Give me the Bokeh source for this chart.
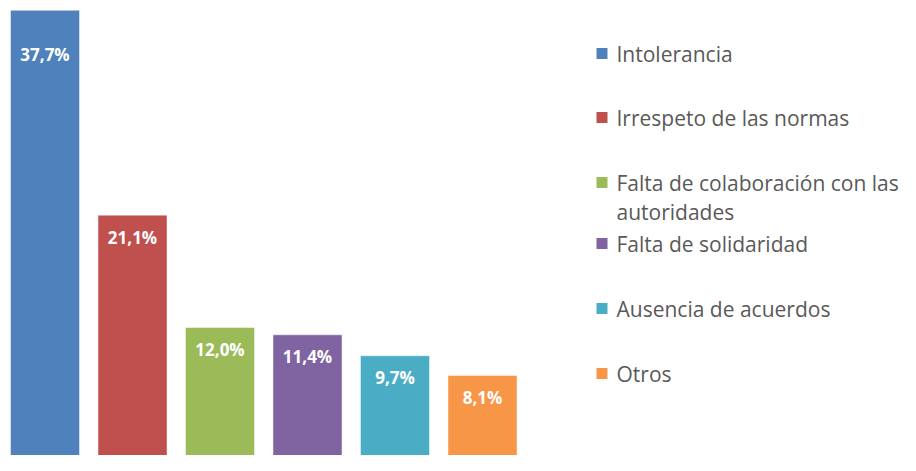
import textwrap
from bokeh.plotting import figure
from bokeh.models import Range1d, ColumnDataSource
from bokeh.core.properties import value
from bokeh.embed import file_html
from bokeh.resources import INLINE

# ---- data ----
categories = ["Intolerancia", "Irrespeto de las normas",
              "Falta de colaboración con las autoridades",
              "Falta de solidaridad", "Ausencia de acuerdos", "Otros"]
values = [37.7, 21.1, 12.0, 11.4, 9.7, 8.1]
labels = ["37,7%", "21,1%", "12,0%", "11,4%", "9,7%", "8,1%"]
colors = ["#4F81BD", "#C0504D", "#9BBB59", "#8064A2", "#4BACC6", "#F79646"]

# ---- layout ----
W, H = 900, 455
PX_PER_CAT = 87.5
PX_PER_UNIT = 12.34
X0_PX = 44.5           # center of first bar (figure px)
ZERO_PX = 475.0        # pixel row of value 0 (figure px, below frame)

x_start = -X0_PX / PX_PER_CAT
x_end = x_start + W / PX_PER_CAT
y_top = ZERO_PX / PX_PER_UNIT
y_bottom = (ZERO_PX - H) / PX_PER_UNIT

def xd(px):
    return x_start + px / PX_PER_CAT

def yd(py):
    return y_top - py / PX_PER_UNIT

p = figure(width=W, height=H, output_backend="svg", toolbar_location=None,
           x_range=Range1d(x_start, x_end), y_range=Range1d(y_bottom, y_top),
           min_border=0, outline_line_color=None)
p.xaxis.visible = False
p.yaxis.visible = False
p.grid.visible = False
p.background_fill_color = "white"
p.border_fill_color = "white"

idx = list(range(len(values)))
offsets = [44 if v == max(values) else 22 for v in values]
src = ColumnDataSource(dict(x=idx, top=values, color=colors, label=labels, off=offsets))

p.vbar(x="x", top="top", bottom=0, width=69 / PX_PER_CAT, fill_color="color",
       line_color="white", line_alpha=0.45, line_width=1, source=src)

p.text(x="x", y="top", text="label", y_offset="off", source=src,
       text_color="white", text_font=value("Open Sans"), text_font_style="bold",
       text_font_size="17px", text_align="center", text_baseline="middle")

# ---- legend (drawn manually) ----
legend_rows_px = [53, 117, 182, 243, 308, 373]   # figure px of first line
line_h = 29
sq_x, sq_y, tx, ty, tt = [], [], [], [], []
for name, col, row in zip(categories, colors, legend_rows_px):
    sq_x.append(xd(601.5))
    sq_y.append(yd(row))
    for k, line in enumerate(textwrap.wrap(name, 29)):
        tx.append(xd(616))
        ty.append(yd(row + k * line_h))
        tt.append(line)

p.scatter(x=sq_x, y=sq_y, marker="square", size=11, fill_color=colors, line_color=None)
p.text(x=tx, y=ty, text=tt, text_color="#595959", text_font=value("Open Sans"),
       text_font_size="21px", text_align="left", text_baseline="middle")

open("out.html", "w").write(file_html(p, INLINE))
